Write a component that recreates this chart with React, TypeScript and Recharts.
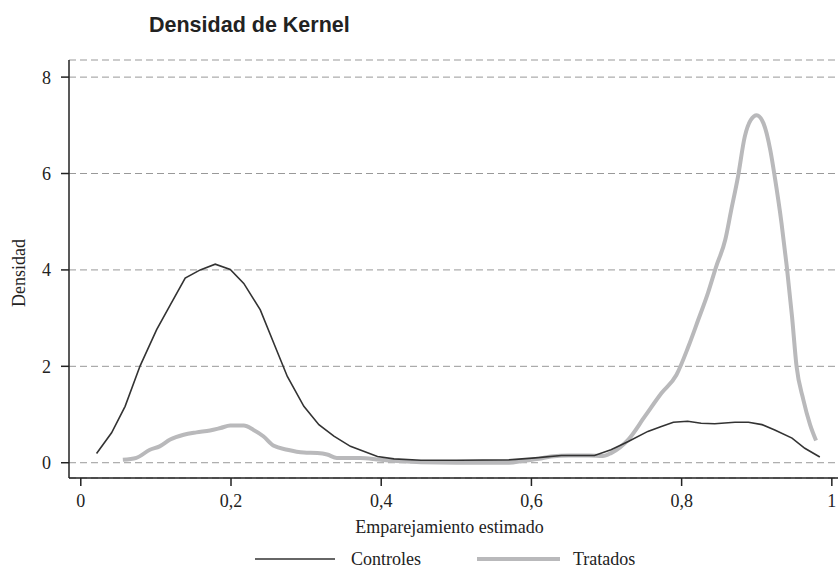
import { LineChart, Line, XAxis, YAxis, CartesianGrid } from 'recharts'

// Controles (densidad kernel)
const ctrlX = [0.021, 0.041, 0.059, 0.079, 0.101, 0.119, 0.139, 0.159, 0.179, 0.199, 0.217, 0.239, 0.257, 0.275, 0.297, 0.317, 0.337, 0.359, 0.395, 0.417, 0.453, 0.5, 0.57, 0.605, 0.64, 0.684, 0.706, 0.729, 0.755, 0.773, 0.789, 0.808, 0.826, 0.844, 0.871, 0.889, 0.907, 0.924, 0.947, 0.964, 0.984]
const ctrlY = [0.19, 0.62, 1.17, 2.01, 2.76, 3.27, 3.83, 4.0, 4.12, 4.01, 3.72, 3.17, 2.48, 1.79, 1.17, 0.79, 0.55, 0.34, 0.13, 0.08, 0.05, 0.05, 0.06, 0.1, 0.15, 0.15, 0.27, 0.44, 0.65, 0.75, 0.84, 0.86, 0.82, 0.81, 0.84, 0.84, 0.79, 0.68, 0.51, 0.3, 0.12]

// Tratados
const tratX = [0.056, 0.074, 0.092, 0.105, 0.119, 0.137, 0.154, 0.172, 0.186, 0.199, 0.217, 0.23, 0.243, 0.257, 0.275, 0.297, 0.315, 0.328, 0.341, 0.372, 0.399, 0.453, 0.5, 0.57, 0.59, 0.61, 0.626, 0.65, 0.677, 0.695, 0.706, 0.729, 0.751, 0.773, 0.793, 0.809, 0.822, 0.835, 0.846, 0.858, 0.866, 0.875, 0.884, 0.892, 0.9, 0.909, 0.918, 0.924, 0.933, 0.94, 0.947, 0.953, 0.962, 0.971, 0.979]
const tratY = [0.06, 0.1, 0.27, 0.34, 0.48, 0.58, 0.63, 0.67, 0.72, 0.77, 0.77, 0.68, 0.55, 0.35, 0.27, 0.21, 0.2, 0.17, 0.1, 0.1, 0.06, 0.01, 0.0, 0.0, 0.04, 0.08, 0.13, 0.15, 0.15, 0.14, 0.2, 0.48, 0.96, 1.44, 1.82, 2.41, 2.96, 3.52, 4.07, 4.62, 5.24, 5.93, 6.76, 7.11, 7.21, 7.04, 6.49, 5.93, 4.97, 4.07, 3.03, 2.0, 1.31, 0.79, 0.46]

const xTicks = [0, 0.2, 0.4, 0.6, 0.8, 1]
const yTicks = [0, 2, 4, 6, 8]

const ctrlData = ctrlX.map((x, i) => ({ x, y: ctrlY[i] }))
const tratData = tratX.map((x, i) => ({ x, y: tratY[i] }))

const SERIF = '"Liberation Serif", "Times New Roman", serif'
const SANS = '"Liberation Sans", Arial, sans-serif'
const INK = '#222'

function fmt(v: number) {
  return String(v).replace('.', ',')
}

export default function App() {
  return (
    <div style={{ position: 'absolute', left: 0, top: 0, width: 838, height: 570, background: '#fff' }}>
      <LineChart width={838} height={570} margin={{ top: 60, right: 0, left: 0, bottom: 0 }}>
        <CartesianGrid vertical={false} stroke="#999" strokeDasharray="7 4" />
        <XAxis
          type="number"
          dataKey="x"
          domain={[-0.0157, 1.0082]}
          allowDataOverflow
          ticks={xTicks}
          interval={0}
          tickFormatter={fmt}
          height={92}
          tickSize={8}
          tickMargin={8}
          stroke={INK}
          strokeWidth={1.5}
          tick={{ fontSize: 18, fontFamily: SERIF, fill: INK }}
        />
        <YAxis
          type="number"
          dataKey="y"
          domain={[-0.317, 8.355]}
          allowDataOverflow
          ticks={yTicks}
          interval={0}
          width={69}
          tickSize={8}
          tickMargin={10}
          stroke={INK}
          strokeWidth={1.5}
          tick={{ fontSize: 18, fontFamily: SERIF, fill: INK }}
        />
        <Line data={tratData} dataKey="y" type="monotone" stroke="#b9b9bb" strokeWidth={4} dot={false} isAnimationActive={false} />
        <Line data={ctrlData} dataKey="y" type="linear" stroke="#333" strokeWidth={1.6} dot={false} isAnimationActive={false} />
      </LineChart>
      <svg width={838} height={570} style={{ position: 'absolute', left: 0, top: 0, pointerEvents: 'none' }}>
        <text x={149} y={32} fontFamily={SANS} fontWeight="bold" fontSize={21.5} fill={INK}>Densidad de Kernel</text>
        <text x={449.5} y={533} textAnchor="middle" fontFamily={SERIF} fontSize={18} fill={INK}>Emparejamiento estimado</text>
        <text transform="translate(25,273) rotate(-90)" textAnchor="middle" fontFamily={SERIF} fontSize={18} fill={INK}>Densidad</text>
        <line x1={255} x2={335} y1={559} y2={559} stroke="#333" strokeWidth={1.6} />
        <text x={351} y={565} fontFamily={SERIF} fontSize={18} fill={INK}>Controles</text>
        <line x1={477} x2={560} y1={559} y2={559} stroke="#b9b9bb" strokeWidth={4} />
        <text x={573} y={565} fontFamily={SERIF} fontSize={18} fill={INK}>Tratados</text>
      </svg>
    </div>
  )
}
